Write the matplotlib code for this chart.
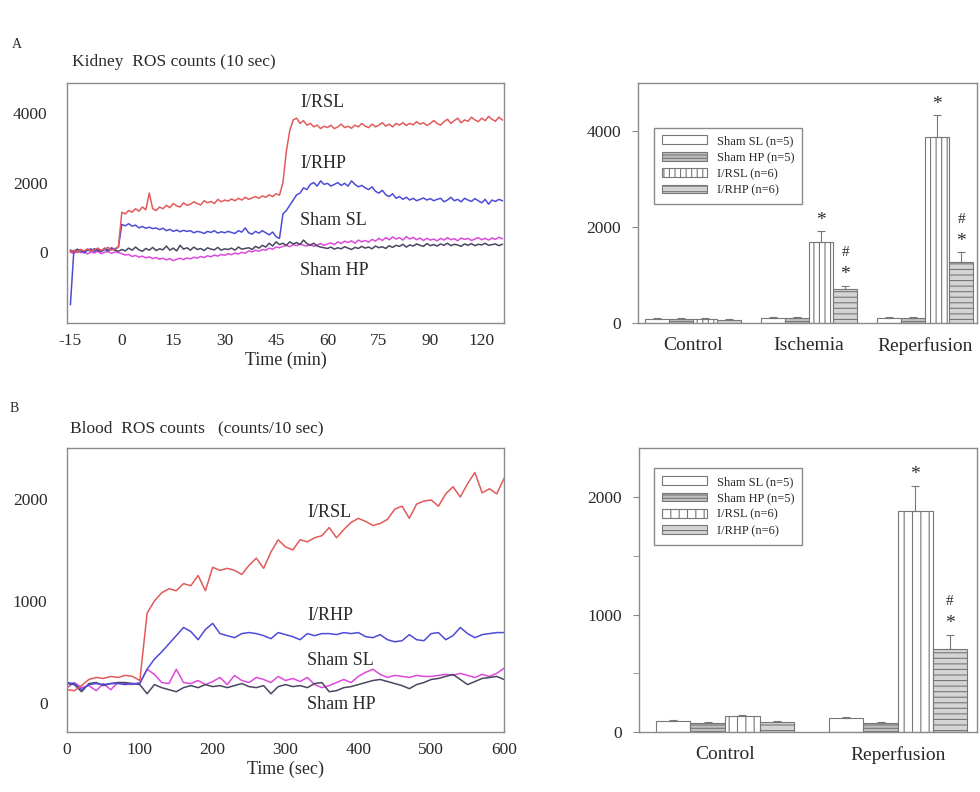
import matplotlib
matplotlib.use('Agg')
import matplotlib.pyplot as plt
import numpy as np

plt.rcParams['font.family'] = 'serif'
plt.rcParams['font.serif'] = ['Liberation Serif', 'DejaVu Serif']
plt.rcParams['hatch.linewidth'] = 0.8
plt.rcParams['text.color'] = '#2a2a2a'
plt.rcParams['xtick.color'] = '#888888'
plt.rcParams['ytick.color'] = '#888888'
plt.rcParams['xtick.labelcolor'] = '#2a2a2a'
plt.rcParams['ytick.labelcolor'] = '#2a2a2a'
plt.rcParams['axes.labelcolor'] = '#2a2a2a'

# ---------------- data ----------------
# A: kidney ROS counts, one reading per minute from -15 to 111 min
kidney_time = np.arange(-15, 112)
kidney_rsl = [20, 60, -10, 80, 40, 100, 30, 70, 120, 50, 90, 140, 60, 110, 150,
              1150, 1100, 1200, 1150, 1250, 1180, 1300, 1220, 1700, 1250,
              1200, 1300, 1250, 1350, 1280, 1400, 1330, 1300, 1420, 1350,
              1380, 1450, 1400, 1360, 1480, 1420, 1460, 1400, 1520, 1450,
              1500, 1470, 1530, 1480, 1550, 1500, 1580, 1520, 1560, 1600,
              1550, 1620, 1580, 1650, 1600, 1680, 1640,
              2000, 2900, 3500, 3800,
              3850, 3700, 3780, 3650, 3700, 3600, 3650, 3550, 3620, 3580,
              3650, 3550, 3600, 3680, 3580, 3620, 3560, 3650, 3600, 3700,
              3620, 3580, 3680, 3600, 3650, 3720, 3620, 3680, 3600, 3700,
              3650, 3720, 3640, 3700, 3660, 3750, 3680, 3720, 3640, 3700,
              3780, 3700, 3650, 3750, 3820, 3700, 3780, 3850, 3720, 3800,
              3760, 3880, 3800, 3750, 3850, 3780, 3900, 3820, 3760, 3880, 3800]
kidney_rhp = [-1500, 50, 0, 80, -20, 60, 100, 20, 90, 40, 120, 60, 130, 80, 150,
              800, 760, 820, 750, 780, 700, 740, 690, 720, 680,
              700, 650, 690, 620, 660, 600, 640, 590, 630, 600,
              620, 560, 600, 580, 540, 600, 570, 620, 550, 590,
              560, 600, 570, 540, 620, 580, 700, 560, 520, 600,
              550, 620, 560, 500, 580, 450, 400,
              1100, 1200, 1350, 1500,
              1650, 1700, 1850, 1800, 1950, 2000, 1900, 2050, 1950, 1980,
              1900, 1950, 2000, 1920, 1980, 1900, 2050, 1950, 1880, 1920,
              1850, 1800, 1880, 1750, 1700, 1780, 1650, 1600, 1680, 1550,
              1600, 1520, 1580, 1500, 1550, 1480, 1520, 1560, 1500, 1540,
              1480, 1520, 1550, 1450, 1500, 1580, 1480, 1520, 1450, 1550,
              1500, 1460, 1540, 1480, 1420, 1520, 1380, 1500, 1460, 1520, 1480]
kidney_ssl = [60, 20, 90, 40, 10, 70, 30, 100, 50, 20, 80, 40, 110, 60, 30,
              80, 40, 120, 60, 150, 70, 30, 110, 60, 140,
              50, 100, 70, 180, 60, 120, 40, 200, 90, 130,
              60, 150, 80, 110, 50, 130, 90, 70, 140, 60,
              100, 80, 120, 60, 150, 90, 110, 130, 80, 170,
              120, 200, 150, 260, 180, 300, 220,
              260, 200, 300, 240,
              280, 220, 350, 250, 200, 260, 180, 150, 130, 110,
              150, 90, 130, 100, 160, 120, 80, 140, 110, 170,
              120, 150, 100, 180, 130, 160, 110, 190, 140, 200,
              170, 230, 150, 210, 180, 240, 200, 170, 250, 190,
              220, 180, 240, 200, 260, 190, 230, 210, 170, 240,
              200, 250, 190, 230, 210, 260, 200, 220, 240, 190, 230]
kidney_shp = [0, -30, 40, -10, 20, -50, 10, -20, 30, -40, 0, 20, -30, 10, -10,
              -40, -80, -60, -120, -90, -140, -110, -160, -130, -180,
              -150, -200, -170, -220, -180, -240, -200, -170, -210, -160,
              -190, -140, -170, -120, -150, -100, -130, -80, -110, -60,
              -90, -40, -70, -20, -50, 0, -30, 40, 10, 60,
              30, 80, 60, 120, 90, 150, 130,
              170, 200, 160, 220,
              190, 240, 200, 180, 230, 170, 210, 250, 200, 240,
              270, 220, 300, 250, 320, 280, 330, 260, 350, 300,
              340, 290, 370, 320, 400, 340, 420, 360, 440, 380,
              420, 350, 450, 380, 430, 360, 410, 340, 400, 350,
              380, 330, 400, 350, 420, 360, 390, 330, 410, 370,
              400, 340, 380, 420, 360, 400, 350, 410, 370, 430, 390]
kidney_ticks = [-15, 0, 15, 30, 45, 60, 75, 90, 105]
kidney_ticklabels = ['-15', '0', '15', '30', '45', '60', '75', '90', '120']

# B: blood ROS counts, every 10 sec from 0 to 600 sec
blood_time = np.arange(0, 601, 10)
blood_rsl = [130, 120, 170, 230, 250, 240, 260, 250, 270, 260,
             220, 880, 1000, 1080, 1120, 1100, 1170, 1150, 1250, 1100,
             1330, 1300, 1320, 1300, 1260, 1350, 1420, 1320, 1480, 1600,
             1530, 1500, 1600, 1580, 1620, 1640, 1720, 1620, 1700, 1770,
             1810, 1780, 1740, 1760, 1800, 1900, 1930, 1810, 1950, 1980,
             1990, 1930, 2050, 2120, 2020, 2150, 2260, 2060, 2100, 2050,
             2200]
blood_rhp = [200, 190, 130, 180, 190, 180, 190, 190, 180, 190,
             190, 330, 430, 500, 580, 660, 740, 700, 620, 720,
             780, 680, 660, 640, 680, 690, 680, 660, 630, 690,
             670, 650, 620, 680, 660, 680, 680, 670, 690, 680,
             690, 650, 640, 670, 620, 600, 610, 670, 620, 610,
             680, 690, 620, 660, 740, 680, 640, 670, 680, 690,
             690]
blood_ssl = [190, 180, 110, 190, 200, 170, 190, 200, 200, 190,
             180, 90, 180, 150, 130, 110, 150, 170, 150, 180,
             160, 170, 150, 170, 190, 160, 150, 170, 90, 160,
             180, 160, 170, 150, 190, 200, 110, 120, 150, 160,
             180, 200, 220, 230, 210, 190, 170, 140, 180, 200,
             230, 240, 260, 280, 230, 180, 210, 240, 250, 260,
             230]
blood_shp = [150, 200, 150, 170, 120, 190, 130, 200, 190, 180,
             200, 330, 280, 200, 190, 330, 200, 190, 220, 180,
             210, 250, 180, 270, 220, 200, 250, 230, 200, 260,
             220, 240, 210, 250, 180, 150, 170, 200, 230, 200,
             260, 300, 330, 280, 250, 270, 260, 250, 270, 260,
             260, 270, 280, 270, 290, 270, 250, 280, 260, 290,
             340]

series_names = ['Sham SL (n=5)', 'Sham HP (n=5)', 'I/RSL (n=6)', 'I/RHP (n=6)']

kidney_groups = ['Control', 'Ischemia', 'Reperfusion']
kidney_bar_means = [[80, 110, 110],      # Sham SL
                    [90, 110, 110],      # Sham HP
                    [90, 1680, 3880],    # I/RSL
                    [70, 700, 1280]]     # I/RHP
kidney_bar_errs = [[15, 15, 15],
                   [10, 10, 10],
                   [20, 230, 450],
                   [10, 80, 190]]

blood_groups = ['Control', 'Reperfusion']
blood_bar_means = [[90, 120],
                   [80, 80],
                   [135, 1880],
                   [88, 710]]
blood_bar_errs = [[10, 8],
                  [8, 5],
                  [10, 220],
                  [8, 120]]

# ---------------- figure ----------------
fig = plt.figure(figsize=(9.8, 7.92), dpi=100)


def px_axes(left, top, right, bottom):
    return fig.add_axes([left / 980, 1 - bottom / 792, (right - left) / 980, (bottom - top) / 792])


line_colors = ['#e25a5a', '#4c4cd6', '#4a4660', '#dc4adc']
spine_color = '#8a8a8a'


def style_line_axes(ax):
    for s in ax.spines.values():
        s.set_color(spine_color)
        s.set_linewidth(1.0)
    ax.tick_params(axis='x', length=0, pad=7, labelsize=12.5)
    ax.tick_params(axis='y', length=0, pad=14, labelsize=12.5)


# A, line chart
ax1 = px_axes(67, 83, 504, 323)
ax1.plot(kidney_time, kidney_shp, color=line_colors[3], lw=1.1)
ax1.plot(kidney_time, kidney_ssl, color=line_colors[2], lw=1.1)
ax1.plot(kidney_time, kidney_rhp, color=line_colors[1], lw=1.1)
ax1.plot(kidney_time, kidney_rsl, color=line_colors[0], lw=1.1)
ax1.set_xlim(-16, 111.5)
ax1.set_ylim(-2030, 4860)
ax1.set_xticks(kidney_ticks)
ax1.set_xticklabels(kidney_ticklabels)
ax1.set_yticks([0, 2000, 4000])
ax1.set_xlabel('Time (min)', fontsize=13, labelpad=2)
style_line_axes(ax1)
for lab, yv in zip(['I/RSL', 'I/RHP', 'Sham SL', 'Sham HP'], [4290, 2560, 920, -520]):
    ax1.text(52, yv, lab, fontsize=13, va='center', ha='left')

# B, line chart
ax3 = px_axes(67, 448, 504, 732)
ax3.plot(blood_time, blood_shp, color=line_colors[3], lw=1.1)
ax3.plot(blood_time, blood_ssl, color=line_colors[2], lw=1.1)
ax3.plot(blood_time, blood_rhp, color=line_colors[1], lw=1.1)
ax3.plot(blood_time, blood_rsl, color=line_colors[0], lw=1.1)
ax3.set_xlim(0, 600)
ax3.set_ylim(-285, 2500)
ax3.set_xticks([0, 100, 200, 300, 400, 500, 600])
ax3.set_yticks([0, 1000, 2000])
ax3.set_xlabel('Time (sec)', fontsize=13, labelpad=2)
style_line_axes(ax3)
for lab, yv in zip(['I/RSL', 'I/RHP', 'Sham SL', 'Sham HP'], [1870, 860, 420, -20]):
    ax3.text(330, yv, lab, fontsize=13, va='center', ha='left')

# bar charts
bar_faces = ['white', '#c0c0c0', 'white', '#d4d4d4']
bar_edge = '#777777'


def draw_bars(ax, groups, means, errs, width, vhatch):
    hatches = [None, '-----', vhatch, '---']
    x = np.arange(len(groups))
    for i in range(4):
        pos = x + (i - 1.5) * width
        ax.bar(pos, means[i], width, color=bar_faces[i], edgecolor=bar_edge,
               hatch=hatches[i], linewidth=0.8, label=series_names[i],
               yerr=[np.zeros(len(groups)), errs[i]], ecolor=bar_edge,
               error_kw=dict(capsize=3, elinewidth=0.8, capthick=0.8))
    ax.set_xticks(x)
    ax.set_xticklabels(groups)
    for s in ax.spines.values():
        s.set_color(spine_color)
        s.set_linewidth(1.0)
    ax.tick_params(axis='x', length=0, pad=10, labelsize=14)
    ax.tick_params(axis='y', length=4, pad=8, labelsize=12.5, direction='out')
    return x


def mark(ax, xpos, top, text, offset, size):
    ax.annotate(text, (xpos, top), xytext=(0, offset), textcoords='offset points',
                ha='center', va='center', fontsize=size)


def add_legend(ax, anchor):
    ax.legend(loc='upper left', bbox_to_anchor=anchor, fontsize=9, frameon=True,
              fancybox=False, edgecolor=spine_color, handlelength=3.6, handleheight=0.7,
              labelspacing=0.35, borderpad=0.6, framealpha=1)


ax2 = px_axes(638, 83, 977, 323)
w = 0.207
xk = draw_bars(ax2, kidney_groups, kidney_bar_means, kidney_bar_errs, w, '|||')
ax2.set_xlim(-0.474, 2.448)
ax2.set_ylim(0, 5000)
ax2.set_yticks([0, 2000, 4000])
for g in [1, 2]:
    mark(ax2, xk[g] + 0.5 * w, kidney_bar_means[2][g] + kidney_bar_errs[2][g], '*', 8, 14)
    mark(ax2, xk[g] + 1.5 * w, kidney_bar_means[3][g] + kidney_bar_errs[3][g], '*', 8, 14)
    mark(ax2, xk[g] + 1.5 * w, kidney_bar_means[3][g] + kidney_bar_errs[3][g], '#', 24, 11)
add_legend(ax2, (0.03, 0.84))

ax4 = px_axes(639, 448, 977, 732)
w = 0.2
xb = draw_bars(ax4, blood_groups, blood_bar_means, blood_bar_errs, w, '||')
ax4.set_xlim(-0.497, 1.457)
ax4.set_ylim(0, 2420)
ax4.set_yticks([0, 1000, 2000])
ax4.set_yticks([500, 1500], minor=True)
ax4.tick_params(axis='y', which='minor', length=4)
mark(ax4, xb[1] + 0.5 * w, blood_bar_means[2][1] + blood_bar_errs[2][1], '*', 8, 14)
mark(ax4, xb[1] + 1.5 * w, blood_bar_means[3][1] + blood_bar_errs[3][1], '*', 8, 14)
mark(ax4, xb[1] + 1.5 * w, blood_bar_means[3][1] + blood_bar_errs[3][1], '#', 24, 11)
add_legend(ax4, (0.027, 0.95))

# panel letters and titles
fig.text(12 / 980, 1 - 45 / 792, 'A', fontsize=10, va='center')
fig.text(72 / 980, 1 - 62 / 792, 'Kidney  ROS counts (10 sec)', fontsize=12.5, va='center')
fig.text(10 / 980, 1 - 408 / 792, 'B', fontsize=10, va='center')
fig.text(70 / 980, 1 - 428 / 792, 'Blood  ROS counts   (counts/10 sec)', fontsize=12.5, va='center')

fig.savefig('out.png', dpi=100)
